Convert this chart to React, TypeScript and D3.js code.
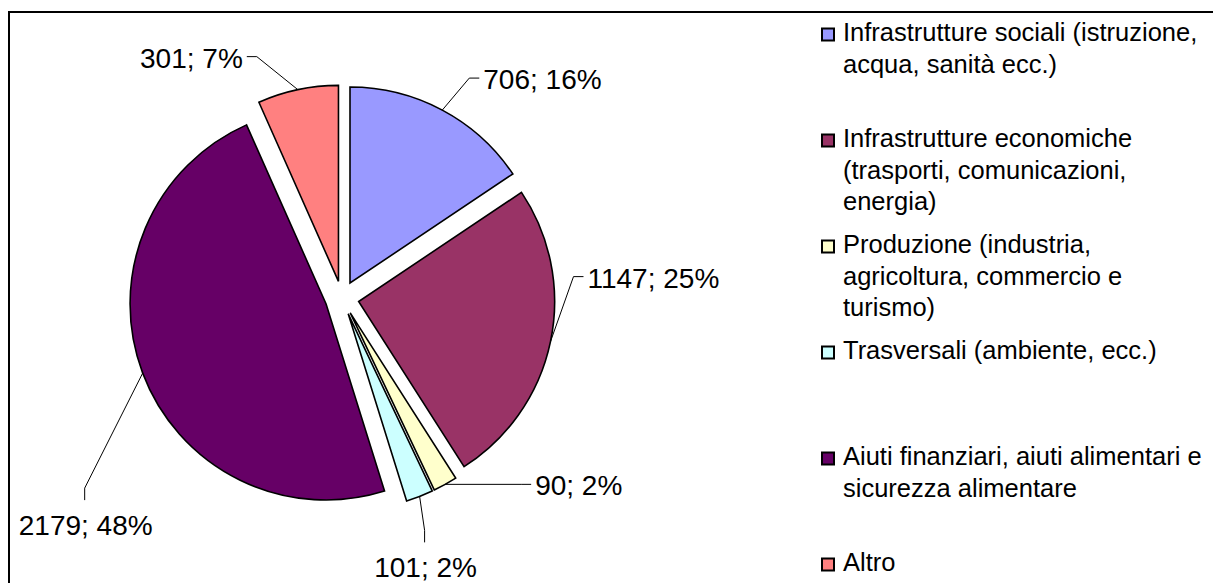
import React from "react";
import * as d3 from "d3";

const categories = [
  "Infrastrutture sociali (istruzione, acqua, sanità ecc.)",
  "Infrastrutture economiche (trasporti, comunicazioni, energia)",
  "Produzione (industria, agricoltura, commercio e turismo)",
  "Trasversali (ambiente, ecc.)",
  "Aiuti finanziari, aiuti alimentari e sicurezza alimentare",
  "Altro",
];
const legendLines = [
  ["Infrastrutture sociali (istruzione,", "acqua, sanità ecc.)"],
  ["Infrastrutture economiche", "(trasporti, comunicazioni,", "energia)"],
  ["Produzione (industria,", "agricoltura, commercio e", "turismo)"],
  ["Trasversali (ambiente, ecc.)"],
  ["Aiuti finanziari, aiuti alimentari e", "sicurezza alimentare"],
  ["Altro"],
];
const values = [706, 1147, 90, 101, 2179, 301];
const colors = ["#9999FF", "#993366", "#FFFFCC", "#CCFFFF", "#660066", "#FF8080"];

// label placement relative to the outer arc midpoint of each (exploded) slice
const labelLayout = [
  { dx: 41, dy: -21, anchor: "start" },
  { dx: 37, dy: -54, anchor: "start" },
  { dx: 90, dy: 11, anchor: "start" },
  { dx: 6, dy: 81, anchor: "middle" },
  { dx: -57, dy: 162, anchor: "middle" },
  { dx: -55, dy: -22, anchor: "end" },
];

const W = 1213;
const H = 583;
const cx = 342;
const cy = 298;
const R = 196;
const EXPLODE = 17;
const FONT = "'Liberation Sans', Arial, Helvetica, sans-serif";

export default function App() {
  const total = d3.sum(values);
  const pie = d3.pie<number>().sort(null).value((d) => d);
  const arcs = pie(values);
  const arcGen = d3.arc<d3.PieArcDatum<number>>().innerRadius(0).outerRadius(R);

  const legendX = 822;
  const legendTextX = 843;
  const legendTop = 41;
  const legendStep = 106;
  const lineH = 31.5;

  return (
    <svg
      width={W}
      height={H}
      style={{ position: "absolute", left: 0, top: 0, background: "#fff" }}
      fontFamily={FONT}
    >
      <rect x={0} y={0} width={W} height={H} fill="#fff" />
      <rect x={9} y={12} width={W + 100} height={H + 100} fill="none" stroke="#000" strokeWidth={2} />
      {arcs.map((a, i) => {
        const mid = (a.startAngle + a.endAngle) / 2;
        const ox = cx + EXPLODE * Math.sin(mid);
        const oy = cy - EXPLODE * Math.cos(mid);
        return (
          <path
            key={"s" + i}
            d={arcGen(a) || ""}
            transform={`translate(${ox},${oy})`}
            fill={colors[i]}
            stroke="#000"
            strokeWidth={1.6}
            strokeLinejoin="miter"
          />
        );
      })}
      {arcs.map((a, i) => {
        const mid = (a.startAngle + a.endAngle) / 2;
        const ox = cx + EXPLODE * Math.sin(mid);
        const oy = cy - EXPLODE * Math.cos(mid);
        const px = ox + R * Math.sin(mid);
        const py = oy - R * Math.cos(mid);
        const L = labelLayout[i];
        const tx = px + L.dx;
        const ty = py + L.dy;
        let pts: [number, number][];
        if (L.anchor === "start") {
          const yc = ty - 11;
          pts = [[px, py], [tx - 14, yc], [tx - 4, yc]];
        } else if (L.anchor === "end") {
          const yc = ty - 11;
          pts = [[px, py], [tx + 14, yc], [tx + 4, yc]];
        } else {
          const xl = tx - 1;
          pts = [[px, py], [xl, ty - 47], [xl, ty - 35]];
        }
        const pct = Math.round((values[i] / total) * 100);
        return (
          <g key={"l" + i}>
            <path d={d3.line()(pts) || ""} fill="none" stroke="#000" strokeWidth={1} />
            <text x={tx} y={ty} textAnchor={L.anchor} fontSize={28} fill="#000">
              {`${values[i]}; ${pct}%`}
            </text>
          </g>
        );
      })}
      {categories.map((c, i) => {
        const by = legendTop + i * legendStep;
        return (
          <g key={"lg" + i}>
            <rect x={legendX} y={by - 12.5} width={12} height={12} fill={colors[i]} stroke="#000" strokeWidth={2} />
            <text fontSize={25.5} fill="#000">
              {legendLines[i].map((ln, j) => (
                <tspan key={j} x={legendTextX} y={by + j * lineH}>
                  {ln}
                </tspan>
              ))}
            </text>
          </g>
        );
      })}
    </svg>
  );
}
